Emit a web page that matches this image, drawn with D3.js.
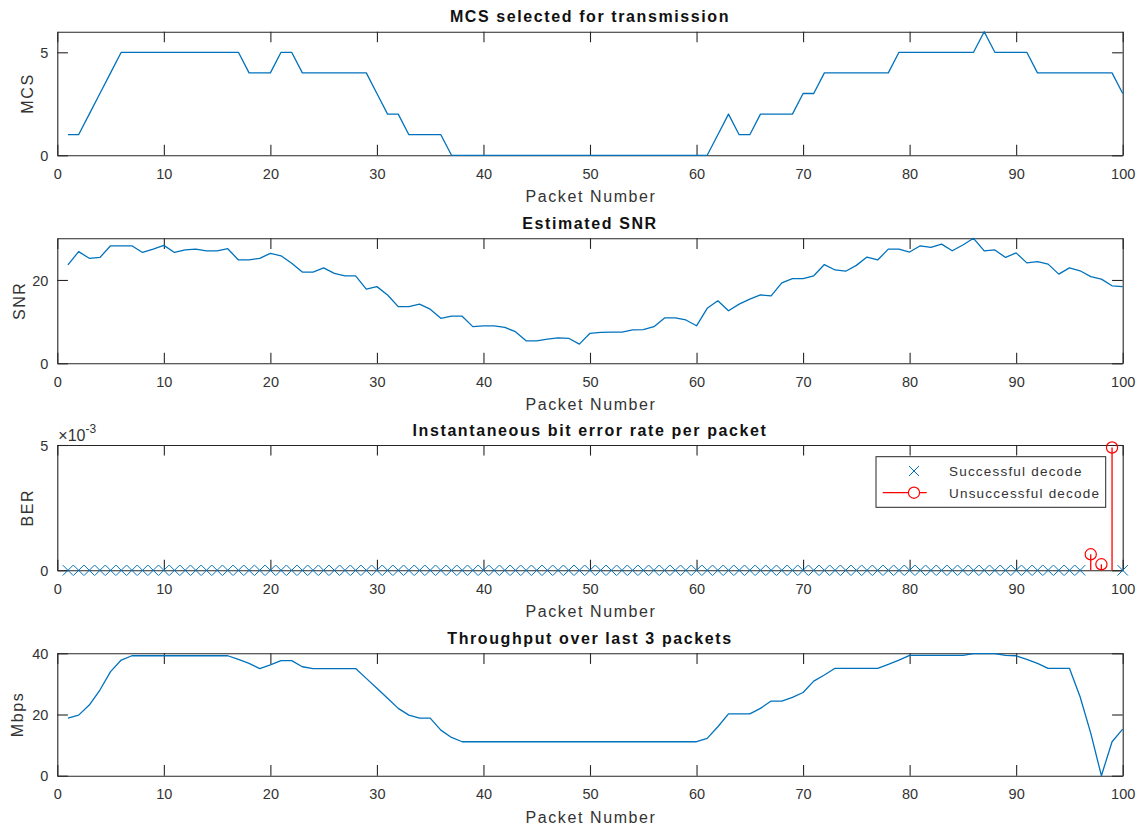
<!DOCTYPE html>
<html>
<head>
<meta charset="utf-8">
<script src="https://cdn.jsdelivr.net/npm/d3@7"></script>
<style>
  html, body { margin: 0; padding: 0; background: #ffffff; }
  svg { display: block; }
  text { font-family: "Liberation Sans", Arial, Helvetica, sans-serif; }
</style>
</head>
<body>
<svg id="chart" width="1140" height="829"></svg>
<script>
// ---------------- data ----------------
const packets = d3.range(1, 101);
const xTicks = [0, 10, 20, 30, 40, 50, 60, 70, 80, 90, 100];

const mcsValues = [
  1,1,2,3,4,5,5,5,5,5,
  5,5,5,5,5,5,5,4,4,4,
  5,5,4,4,4,4,4,4,4,3,
  2,2,1,1,1,1,0,0,0,0,
  0,0,0,0,0,0,0,0,0,0,
  0,0,0,0,0,0,0,0,0,0,
  0,1,2,1,1,2,2,2,2,3,
  3,4,4,4,4,4,4,4,5,5,
  5,5,5,5,5,5,6,5,5,5,
  5,4,4,4,4,4,4,4,4,3
];

const snrValues = [
  23.6,26.8,25.2,25.4,28.2,28.2,28.2,26.6,27.4,28.3,
  26.6,27.2,27.4,27.0,27.0,27.5,24.8,24.8,25.2,26.4,
  25.8,24.0,21.9,21.9,22.9,21.6,21.0,21.0,17.8,18.4,
  16.4,13.6,13.6,14.2,13.0,10.8,11.3,11.3,8.8,9.0,
  9.0,8.6,7.6,5.4,5.4,5.8,6.1,6.0,4.6,7.2,
  7.4,7.5,7.5,8.0,8.1,8.8,10.9,10.9,10.4,9.0,
  13.2,15.0,12.6,14.2,15.4,16.4,16.2,19.3,20.3,20.3,
  21.0,23.7,22.4,22.1,23.5,25.5,24.8,27.4,27.4,26.7,
  28.2,27.8,28.6,27.0,28.4,30.0,27.0,27.2,25.4,26.5,
  24.1,24.4,23.8,21.4,22.9,22.2,20.8,20.2,18.6,18.4
];

const successPackets = d3.range(1, 97).concat([100]);
const successBER = successPackets.map(() => 0);
const failPackets = [97, 98, 99];
const failBER = [0.00064, 0.00024, 0.0049];

const throughputValues = [
  18.8,19.8,23.1,28.0,34.0,37.8,39.2,39.2,39.2,39.2,
  39.2,39.2,39.2,39.2,39.2,39.2,38.0,36.7,35.0,36.2,
  37.6,37.6,35.6,35.0,35.0,35.0,35.0,35.0,31.8,28.6,
  25.3,22.0,19.8,18.8,18.8,14.9,12.5,11.1,11.1,11.1,
  11.1,11.1,11.1,11.1,11.1,11.1,11.1,11.1,11.1,11.1,
  11.1,11.1,11.1,11.1,11.1,11.1,11.1,11.1,11.1,11.1,
  12.2,16.0,20.2,20.2,20.2,22.0,24.4,24.4,25.6,27.2,
  30.9,32.9,35.1,35.1,35.1,35.1,35.1,36.4,37.8,39.3,
  39.3,39.3,39.3,39.3,39.3,39.9,39.9,39.9,39.3,39.2,
  38.0,36.7,35.1,35.1,35.1,25.8,13.9,0,11.1,15.2
];

const titles = ["MCS selected for transmission", "Estimated SNR",
                "Instantaneous bit error rate per packet", "Throughput over last 3 packets"];
const yLabels = ["MCS", "SNR", "BER", "Mbps"];
const yTicksList = [[0, 5], [0, 20], [0, 0.005], [0, 20, 40]];
const yDomains = [[0, 6], [0, 30], [0, 0.005], [0, 40]];
const legendLabels = ["Successful decode", "Unsuccessful decode"];

// ---------------- layout ----------------
const svg = d3.select("#chart");
const AX = "#262626";
const BLUE = "#0072BD";
const RED = "#FF0000";
const left = 57.3, right = 1122.7;
const panels = [
  {top: 31.7, bottom: 155.3, ylabX: 33},
  {top: 238.3, bottom: 363.3, ylabX: 25},
  {top: 445, bottom: 570.3, ylabX: 33},
  {top: 653.3, bottom: 775.7, ylabX: 23}
];
const tickLen = 10.6;

const x = d3.scaleLinear().domain([0, 100]).range([left, right]);

function drawPanel(i) {
  const p = panels[i];
  const y = d3.scaleLinear().domain(yDomains[i]).range([p.bottom, p.top]);
  const g = svg.append("g");

  const xAxisB = d3.axisBottom(x).tickValues(xTicks).tickSizeInner(-tickLen).tickSizeOuter(0).tickPadding(13);
  const gb = g.append("g").attr("transform", `translate(0,${p.bottom})`).call(xAxisB);
  const xAxisT = d3.axisTop(x).tickValues(xTicks).tickSizeInner(-tickLen).tickSizeOuter(0).tickFormat("");
  const gt = g.append("g").attr("transform", `translate(0,${p.top})`).call(xAxisT);

  const fmt = i === 2 ? (d => d3.format("d")(d * 1000)) : d3.format("d");
  const yAxisL = d3.axisLeft(y).tickValues(yTicksList[i]).tickSizeInner(-tickLen).tickSizeOuter(0).tickPadding(9).tickFormat(fmt);
  const gl = g.append("g").attr("transform", `translate(${left},0)`).call(yAxisL);
  const yAxisR = d3.axisRight(y).tickValues(yTicksList[i]).tickSizeInner(-tickLen).tickSizeOuter(0).tickFormat("");
  const gr = g.append("g").attr("transform", `translate(${right},0)`).call(yAxisR);

  [gb, gt, gl, gr].forEach(a => {
    a.select(".domain").attr("stroke", AX).attr("stroke-width", 1.1);
    a.selectAll(".tick line").attr("stroke", AX).attr("stroke-width", 1.1);
    a.selectAll(".tick text").attr("fill", "#333").style("font-size", "14.5px")
      .attr("font-family", "Liberation Sans, Arial, sans-serif");
  });
  gl.selectAll(".tick text").attr("dy", "0.36em");

  g.append("text").attr("x", (left + right) / 2).attr("y", p.top - 9.5)
    .attr("text-anchor", "middle").style("font-size", "16px").style("font-weight", "bold")
    .style("letter-spacing", "1.6px").attr("fill", "#111").text(titles[i]);
  g.append("text").attr("x", (left + right) / 2 + 1).attr("y", p.bottom + 47)
    .attr("text-anchor", "middle").style("font-size", "16px")
    .style("letter-spacing", "1.6px").attr("fill", "#333").text("Packet Number");
  g.append("text").attr("transform", `translate(${p.ylabX},${(p.top + p.bottom) / 2}) rotate(-90)`)
    .attr("text-anchor", "middle").style("font-size", "16px")
    .style("letter-spacing", "1.6px").attr("fill", "#333").text(yLabels[i]);

  return {g, y};
}

function drawLine(i, values) {
  const {g, y} = drawPanel(i);
  const line = d3.line().x((d, k) => x(packets[k])).y(d => y(d));
  g.append("path").datum(values).attr("d", line)
    .attr("fill", "none").attr("stroke", BLUE).attr("stroke-width", 1.3)
    .attr("stroke-linejoin", "round");
}

drawLine(0, mcsValues);
drawLine(1, snrValues);

// BER panel
(function () {
  const {g, y} = drawPanel(2);
  const p = panels[2];
  const ms = 5.2;
  const xm = g.append("g");
  successPackets.forEach((pk, k) => {
    const cx = x(pk), cy = y(successBER[k]);
    xm.append("path")
      .attr("d", `M${cx - ms},${cy - ms}L${cx + ms},${cy + ms}M${cx - ms},${cy + ms}L${cx + ms},${cy - ms}`)
      .attr("stroke", BLUE).attr("stroke-width", 1).attr("fill", "none");
  });
  failPackets.forEach((pk, k) => {
    g.append("line").attr("x1", x(pk)).attr("x2", x(pk))
      .attr("y1", y(0)).attr("y2", y(failBER[k]))
      .attr("stroke", RED).attr("stroke-width", 1.3);
    g.append("circle").attr("cx", x(pk)).attr("cy", y(failBER[k])).attr("r", 5.6)
      .attr("fill", "none").attr("stroke", RED).attr("stroke-width", 1.2);
  });
  const ex = g.append("text").attr("x", left + 1).attr("y", p.top - 4.5)
    .style("font-size", "16px").attr("fill", "#333");
  ex.append("tspan").text("\u00d710");
  ex.append("tspan").attr("dy", -8).style("font-size", "12px").text("-3");

  const lg = g.append("g");
  lg.append("rect").attr("x", 876).attr("y", 456.7).attr("width", 229.7).attr("height", 50.6)
    .attr("fill", "#fff").attr("stroke", AX).attr("stroke-width", 1);
  const lx = 914, ly1 = 471, ly2 = 492.7, lms = 5;
  lg.append("path")
    .attr("d", `M${lx - lms},${ly1 - lms}L${lx + lms},${ly1 + lms}M${lx - lms},${ly1 + lms}L${lx + lms},${ly1 - lms}`)
    .attr("stroke", BLUE).attr("stroke-width", 1).attr("fill", "none");
  lg.append("line").attr("x1", 882.7).attr("x2", 926.7).attr("y1", ly2).attr("y2", ly2)
    .attr("stroke", RED).attr("stroke-width", 1.3);
  lg.append("circle").attr("cx", lx).attr("cy", ly2).attr("r", 5.6)
    .attr("fill", "#fff").attr("stroke", RED).attr("stroke-width", 1.2);
  [ly1, ly2].forEach((yy, k) => {
    lg.append("text").attr("x", 949).attr("y", yy).attr("dy", "0.36em")
      .style("font-size", "13.5px").style("letter-spacing", "1.2px")
      .attr("fill", "#333").text(legendLabels[k]);
  });
})();

drawLine(3, throughputValues);
</script>
</body>
</html>
